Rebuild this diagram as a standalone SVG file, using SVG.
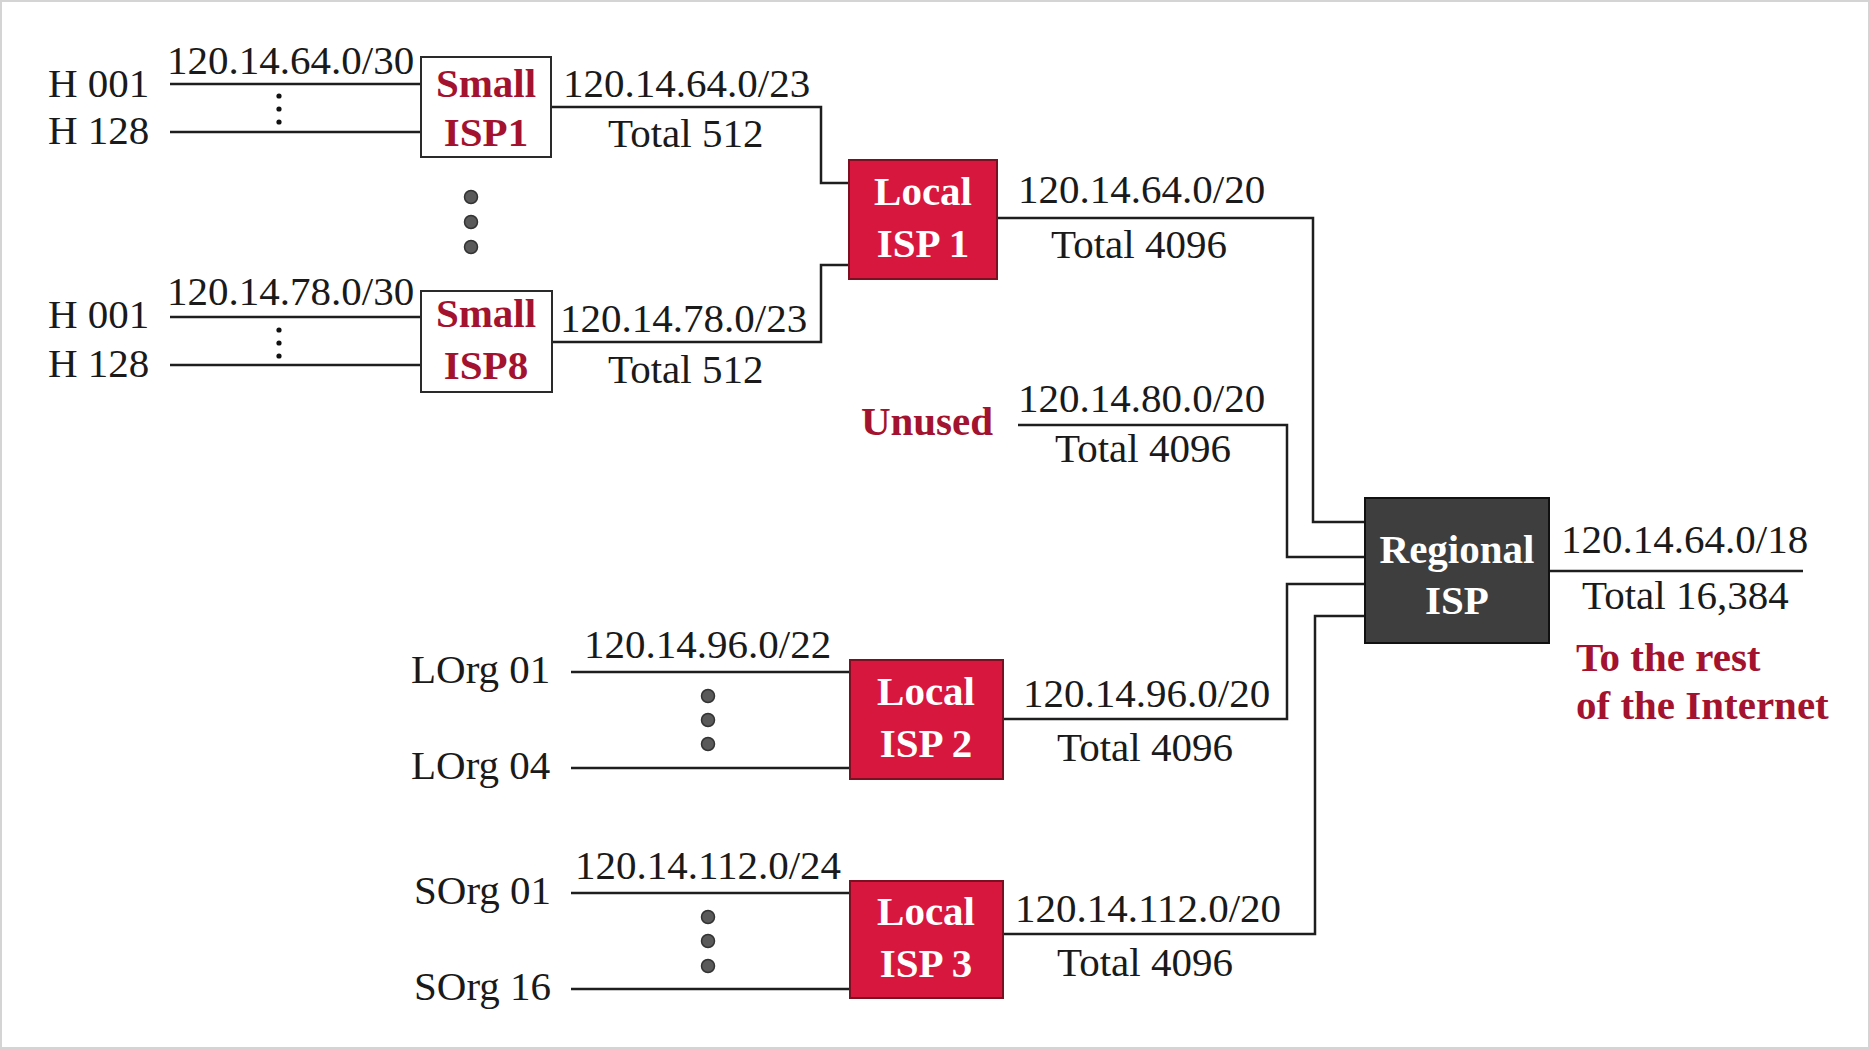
<svg xmlns="http://www.w3.org/2000/svg" width="1870" height="1049" viewBox="0 0 1870 1049">
<style>
.t{font-family:"Liberation Serif","Times New Roman",serif;font-size:41px;fill:#1a1a1a}
.b{font-family:"Liberation Serif","Times New Roman",serif;font-size:41px;font-weight:bold;text-anchor:middle}
.red{fill:#a3122e}
.w{fill:#ffffff}
.ln{fill:none;stroke:#1e1e1e;stroke-width:2.5}
.small{fill:#ffffff;stroke:#2a2a2a;stroke-width:2}
.local{fill:#d8173f;stroke:#7a1022;stroke-width:2}
.reg{fill:#3e3e3e;stroke:#111;stroke-width:2}
.bd{fill:#5a5a5a;stroke:#333;stroke-width:1.5}
.sd{fill:#111}
</style>
<rect x="1" y="1" width="1868" height="1047" fill="#ffffff" stroke="#d4d4d4" stroke-width="2"/>

<g id="connectors">
<path class="ln" d="M170 84H421"/>
<path class="ln" d="M170 132H421"/>
<path class="ln" d="M170 317H421"/>
<path class="ln" d="M170 365H421"/>
<path class="ln" d="M551 107H821V183H849"/>
<path class="ln" d="M552 342H821V265H849"/>
<path class="ln" d="M571 672H850"/>
<path class="ln" d="M571 768H850"/>
<path class="ln" d="M571 893H850"/>
<path class="ln" d="M571 989H850"/>
<path class="ln" d="M997 218H1313V522H1365"/>
<path class="ln" d="M1018 425H1287V557H1365"/>
<path class="ln" d="M1003 719H1287V584H1365"/>
<path class="ln" d="M1003 934H1315V616H1365"/>
<path class="ln" d="M1549 571H1803"/>
</g>

<g id="hosts1">
<text class="t" x="48" y="97">H 001</text>
<text class="t" x="48" y="144">H 128</text>
<text class="t" x="167" y="74">120.14.64.0/30</text>
<circle class="sd" cx="279" cy="96" r="2.6"/>
<circle class="sd" cx="279" cy="109" r="2.6"/>
<circle class="sd" cx="279" cy="122" r="2.6"/>
</g>

<g id="hosts8">
<text class="t" x="48" y="328">H 001</text>
<text class="t" x="48" y="377">H 128</text>
<text class="t" x="167" y="305">120.14.78.0/30</text>
<circle class="sd" cx="279" cy="330" r="2.6"/>
<circle class="sd" cx="279" cy="343" r="2.6"/>
<circle class="sd" cx="279" cy="356" r="2.6"/>
</g>

<g id="small-isp1">
<rect class="small" x="421" y="57" width="130" height="100"/>
<text class="b red" x="486" y="97">Small</text>
<text class="b red" x="486" y="146">ISP1</text>
<text class="t" x="563" y="97">120.14.64.0/23</text>
<text class="t" x="608" y="147">Total 512</text>
</g>

<g id="more-small-isps">
<circle class="bd" cx="471" cy="197" r="6.5"/>
<circle class="bd" cx="471" cy="222" r="6.5"/>
<circle class="bd" cx="471" cy="247" r="6.5"/>
</g>

<g id="small-isp8">
<rect class="small" x="421" y="291" width="131" height="101"/>
<text class="b red" x="486" y="327">Small</text>
<text class="b red" x="486" y="379">ISP8</text>
<text class="t" x="560" y="332">120.14.78.0/23</text>
<text class="t" x="608" y="383">Total 512</text>
</g>

<g id="local-isp1">
<rect class="local" x="849" y="160" width="148" height="119"/>
<text class="b w" x="923" y="205">Local</text>
<text class="b w" x="923" y="257">ISP 1</text>
<text class="t" x="1018" y="203">120.14.64.0/20</text>
<text class="t" x="1051" y="258">Total 4096</text>
</g>

<g id="unused">
<text class="b red" x="927" y="435">Unused</text>
<text class="t" x="1018" y="412">120.14.80.0/20</text>
<text class="t" x="1055" y="462">Total 4096</text>
</g>

<g id="regional-isp">
<rect class="reg" x="1365" y="498" width="184" height="145"/>
<text class="b w" x="1457" y="563">Regional</text>
<text class="b w" x="1457" y="614">ISP</text>
<text class="t" x="1561" y="553">120.14.64.0/18</text>
<text class="t" x="1582" y="609">Total 16,384</text>
<text class="b red" x="1576" y="671" style="text-anchor:start">To the rest</text>
<text class="b red" x="1576" y="719" style="text-anchor:start">of the Internet</text>
</g>

<g id="large-orgs">
<text class="t" x="411" y="683">LOrg 01</text>
<text class="t" x="411" y="779">LOrg 04</text>
<text class="t" x="584" y="658">120.14.96.0/22</text>
<circle class="bd" cx="708" cy="696" r="6.5"/>
<circle class="bd" cx="708" cy="720" r="6.5"/>
<circle class="bd" cx="708" cy="744" r="6.5"/>
</g>

<g id="local-isp2">
<rect class="local" x="850" y="660" width="153" height="119"/>
<text class="b w" x="926" y="705">Local</text>
<text class="b w" x="926" y="757">ISP 2</text>
<text class="t" x="1023" y="707">120.14.96.0/20</text>
<text class="t" x="1057" y="761">Total 4096</text>
</g>

<g id="small-orgs">
<text class="t" x="414" y="904">SOrg 01</text>
<text class="t" x="414" y="1000">SOrg 16</text>
<text class="t" x="575" y="879">120.14.112.0/24</text>
<circle class="bd" cx="708" cy="917" r="6.5"/>
<circle class="bd" cx="708" cy="941" r="6.5"/>
<circle class="bd" cx="708" cy="966" r="6.5"/>
</g>

<g id="local-isp3">
<rect class="local" x="850" y="881" width="153" height="117"/>
<text class="b w" x="926" y="925">Local</text>
<text class="b w" x="926" y="977">ISP 3</text>
<text class="t" x="1015" y="922">120.14.112.0/20</text>
<text class="t" x="1057" y="976">Total 4096</text>
</g>
</svg>
